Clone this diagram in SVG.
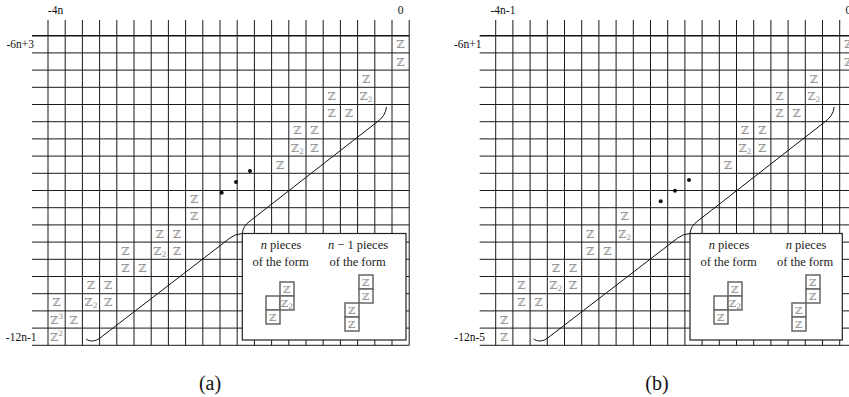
<svg xmlns="http://www.w3.org/2000/svg" xmlns:xlink="http://www.w3.org/1999/xlink" width="849" height="397" viewBox="0 0 849 397">
<style>
.g{stroke:#1a1a1a;stroke-width:1;fill:none}
.gt{stroke:#111;stroke-width:1.6;fill:none}
.lbl{font-family:"Liberation Serif","Tinos","DejaVu Serif",serif;font-size:11.5px;fill:#111}
.cap{font-family:"Liberation Serif","Tinos","DejaVu Serif",serif;font-size:20px;fill:#111;text-anchor:middle}
.ins{font-family:"Liberation Serif","Tinos","DejaVu Serif",serif;font-size:12.5px;fill:#222;text-anchor:middle}
.z{font-family:"DejaVu Serif","DejaVu Sans",serif;font-size:11px;fill:#8a8a8a;text-anchor:middle}
.zs{font-family:"DejaVu Serif","DejaVu Sans",serif;font-size:10px;fill:#8a8a8a;text-anchor:middle}
.sub{font-size:7.5px}
.box{fill:#fff;stroke:#222;stroke-width:1.2}
.pc{fill:#fff;stroke:#666;stroke-width:1.5}
.cv{fill:none;stroke:#111;stroke-width:1}
.dot{fill:#111}
</style>
<defs>
<g id="grid">
<path class="g" d="M48 20V345.3M65.2 20V345.3M82.4 20V345.3M99.6 20V345.3M116.8 20V345.3M134 20V345.3M151.2 20V345.3M168.4 20V345.3M185.6 20V345.3M202.8 20V345.3M220 20V345.3M237.2 20V345.3M254.4 20V345.3M271.6 20V345.3M288.8 20V345.3M306 20V345.3M323.2 20V345.3M340.4 20V345.3M357.6 20V345.3M374.8 20V345.3M392 20V345.3M409.2 20V345.3"/>
<path class="g" d="M32 52.9H409.2M32 70.1H409.2M32 87.3H409.2M32 104.5H409.2M32 121.7H409.2M32 138.9H409.2M32 156.1H409.2M32 173.3H409.2M32 190.5H409.2M32 207.7H409.2M32 224.9H409.2M32 242.1H409.2M32 259.3H409.2M32 276.5H409.2M32 293.7H409.2M32 310.9H409.2M32 328.1H409.2M32 345.3H409.2"/>
<path class="gt" d="M32 35.7H409.2"/>
</g>
<g id="curves">
<path class="cv" d="M86 339C89 341.5 95 342 100 338L230 238Q235 234 242.3 233.5"/>
<path class="cv" d="M242.3 233.5Q243 226 250 221L377 122Q385.5 116 386.5 107"/>
</g>
</defs>

<g id="panel-a">
<use xlink:href="#grid"/>
<text class="lbl" x="55.5" y="14" text-anchor="middle">-4n</text>
<text class="lbl" x="400.6" y="14" text-anchor="middle">0</text>
<text class="lbl" x="34" y="48" text-anchor="end">-6n+3</text>
<text class="lbl" x="36.5" y="341" text-anchor="end">-12n-1</text>
<g id="cells-a">
<text class="z" x="400.6" y="48.3">ℤ</text>
<text class="z" x="400.6" y="65.5">ℤ</text>
<text class="z" x="366.2" y="82.7">ℤ</text>
<text class="z" x="331.8" y="99.9">ℤ</text>
<text class="z" x="366.2" y="99.9">ℤ<tspan class="sub" dy="2">2</tspan></text>
<text class="z" x="331.8" y="117.1">ℤ</text>
<text class="z" x="349" y="117.1">ℤ</text>
<text class="z" x="297.4" y="134.3">ℤ</text>
<text class="z" x="314.6" y="134.3">ℤ</text>
<text class="z" x="297.4" y="151.5">ℤ<tspan class="sub" dy="2">2</tspan></text>
<text class="z" x="314.6" y="151.5">ℤ</text>
<text class="z" x="280.2" y="168.7">ℤ</text>
<text class="z" x="194.2" y="203.1">ℤ</text>
<text class="z" x="194.2" y="220.3">ℤ</text>
<text class="z" x="159.8" y="237.5">ℤ</text>
<text class="z" x="177" y="237.5">ℤ</text>
<text class="z" x="125.4" y="254.7">ℤ</text>
<text class="z" x="159.8" y="254.7">ℤ<tspan class="sub" dy="2">2</tspan></text>
<text class="z" x="177" y="254.7">ℤ</text>
<text class="z" x="125.4" y="271.9">ℤ</text>
<text class="z" x="142.6" y="271.9">ℤ</text>
<text class="z" x="91" y="289.1">ℤ</text>
<text class="z" x="108.2" y="289.1">ℤ</text>
<text class="z" x="56.6" y="306.3">ℤ</text>
<text class="z" x="91" y="306.3">ℤ<tspan class="sub" dy="2">2</tspan></text>
<text class="z" x="108.2" y="306.3">ℤ</text>
<text class="z" x="56.6" y="323.5">ℤ<tspan class="sub" dy="-5">3</tspan></text>
<text class="z" x="73.8" y="323.5">ℤ</text>
<text class="z" x="56.6" y="340.7">ℤ<tspan class="sub" dy="-5">2</tspan></text>
</g>
<circle class="dot" cx="221.7" cy="192.7" r="2"/>
<circle class="dot" cx="236" cy="182" r="2"/>
<circle class="dot" cx="250" cy="171" r="2"/>
<use xlink:href="#curves"/>
<g id="inset-a">
<rect class="box" x="242.3" y="233.5" width="163.7" height="106.5"/>
<text class="ins" x="281" y="249"><tspan font-style="italic">n</tspan> pieces</text>
<text class="ins" x="280.5" y="265.5">of the form</text>
<text class="ins" x="358" y="249"><tspan font-style="italic">n</tspan> − 1 pieces</text>
<text class="ins" x="357.5" y="265.5">of the form</text>
<rect class="pc" x="280" y="282" width="14" height="14"/>
<rect class="pc" x="266" y="296" width="14" height="14"/>
<rect class="pc" x="280" y="296" width="14" height="14"/>
<rect class="pc" x="266" y="310" width="14" height="14"/>
<text class="zs" x="287" y="293">ℤ</text>
<text class="zs" x="287" y="307">ℤ<tspan class="sub" font-size="6.5" dy="2">2</tspan></text>
<text class="zs" x="273" y="321">ℤ</text>
<rect class="pc" x="359" y="275" width="14" height="14"/>
<rect class="pc" x="359" y="289" width="14" height="14"/>
<rect class="pc" x="345" y="303" width="14" height="14"/>
<rect class="pc" x="345" y="317" width="14" height="14"/>
<text class="zs" x="366" y="286">ℤ</text>
<text class="zs" x="366" y="300">ℤ</text>
<text class="zs" x="352" y="314">ℤ</text>
<text class="zs" x="352" y="328">ℤ</text>
</g>
<text class="cap" x="210" y="390">(a)</text>
</g>

<g id="panel-b">
<use xlink:href="#grid" transform="translate(447.7 0)"/>
<text class="lbl" x="503" y="14" text-anchor="middle">-4n-1</text>
<text class="lbl" x="848.3" y="14" text-anchor="middle">0</text>
<text class="lbl" x="481.5" y="48" text-anchor="end">-6n+1</text>
<text class="lbl" x="485" y="341" text-anchor="end">-12n-5</text>
<g id="cells-b">
<text class="z" x="848.3" y="48.3">ℤ</text>
<text class="z" x="848.3" y="65.5">ℤ</text>
<text class="z" x="813.9" y="82.7">ℤ</text>
<text class="z" x="779.5" y="99.9">ℤ</text>
<text class="z" x="813.9" y="99.9">ℤ<tspan class="sub" dy="2">2</tspan></text>
<text class="z" x="779.5" y="117.1">ℤ</text>
<text class="z" x="796.7" y="117.1">ℤ</text>
<text class="z" x="745.1" y="134.3">ℤ</text>
<text class="z" x="762.3" y="134.3">ℤ</text>
<text class="z" x="745.1" y="151.5">ℤ<tspan class="sub" dy="2">2</tspan></text>
<text class="z" x="762.3" y="151.5">ℤ</text>
<text class="z" x="727.9" y="168.7">ℤ</text>
<text class="z" x="624.7" y="220.3">ℤ</text>
<text class="z" x="590.3" y="237.5">ℤ</text>
<text class="z" x="624.7" y="237.5">ℤ<tspan class="sub" dy="2">2</tspan></text>
<text class="z" x="590.3" y="254.7">ℤ</text>
<text class="z" x="607.5" y="254.7">ℤ</text>
<text class="z" x="555.9" y="271.9">ℤ</text>
<text class="z" x="573.1" y="271.9">ℤ</text>
<text class="z" x="521.5" y="289.1">ℤ</text>
<text class="z" x="555.9" y="289.1">ℤ<tspan class="sub" dy="2">2</tspan></text>
<text class="z" x="573.1" y="289.1">ℤ</text>
<text class="z" x="521.5" y="306.3">ℤ</text>
<text class="z" x="538.7" y="306.3">ℤ</text>
<text class="z" x="504.3" y="323.5">ℤ</text>
<text class="z" x="504.3" y="340.7">ℤ</text>
</g>
<circle class="dot" cx="660.7" cy="201.3" r="2"/>
<circle class="dot" cx="675" cy="190.7" r="2"/>
<circle class="dot" cx="689" cy="180" r="2"/>
<use xlink:href="#curves" transform="translate(447.7 0)"/>
<g id="inset-b">
<rect class="box" x="690" y="233.5" width="152.3" height="106.5"/>
<text class="ins" x="729" y="249"><tspan font-style="italic">n</tspan> pieces</text>
<text class="ins" x="728.5" y="265.5">of the form</text>
<text class="ins" x="806" y="249"><tspan font-style="italic">n</tspan> pieces</text>
<text class="ins" x="805" y="265.5">of the form</text>
<rect class="pc" x="728" y="282" width="14" height="14"/>
<rect class="pc" x="714" y="296" width="14" height="14"/>
<rect class="pc" x="728" y="296" width="14" height="14"/>
<rect class="pc" x="714" y="310" width="14" height="14"/>
<text class="zs" x="735" y="293">ℤ</text>
<text class="zs" x="735" y="307">ℤ<tspan class="sub" font-size="6.5" dy="2">2</tspan></text>
<text class="zs" x="721" y="321">ℤ</text>
<rect class="pc" x="806" y="275" width="14" height="14"/>
<rect class="pc" x="806" y="289" width="14" height="14"/>
<rect class="pc" x="792" y="303" width="14" height="14"/>
<rect class="pc" x="792" y="317" width="14" height="14"/>
<text class="zs" x="813" y="286">ℤ</text>
<text class="zs" x="813" y="300">ℤ</text>
<text class="zs" x="799" y="314">ℤ</text>
<text class="zs" x="799" y="328">ℤ</text>
</g>
<text class="cap" x="657" y="390">(b)</text>
</g>
</svg>
